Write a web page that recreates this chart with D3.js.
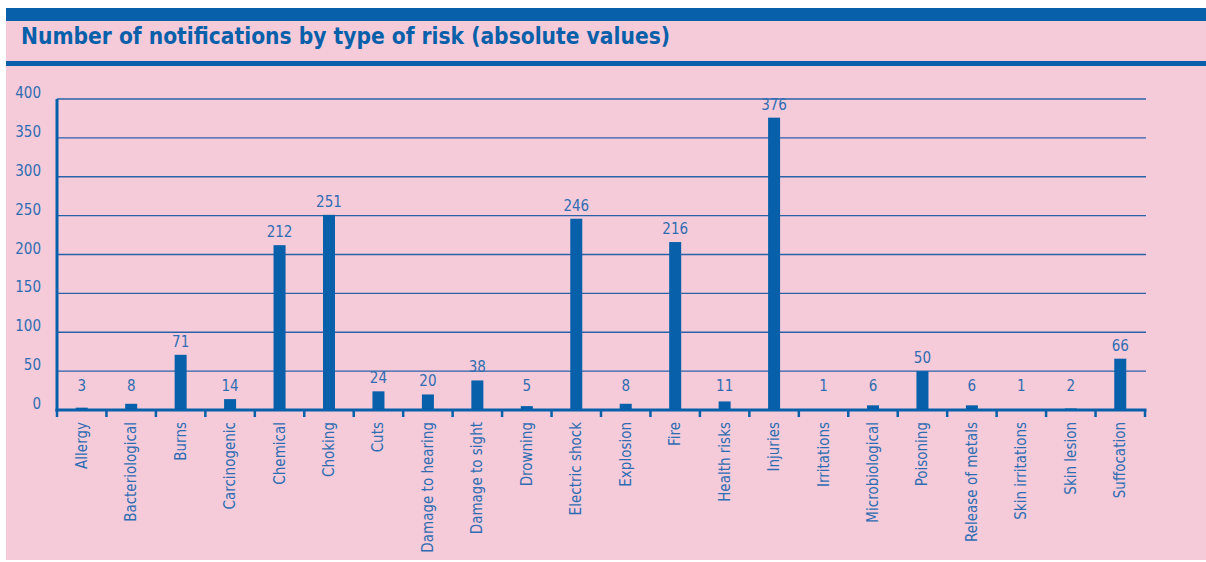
<!DOCTYPE html>
<html>
<head>
<meta charset="utf-8">
<script src="https://cdn.jsdelivr.net/npm/d3@7"></script>
<style>
  body { margin: 0; background: #fff; }
  svg text { font-family: 'DejaVu Sans Condensed', 'DejaVu Sans', sans-serif; }
</style>
</head>
<body>
<div id="chart"></div>
<script>
var categories = ['Allergy', 'Bacteriological', 'Burns', 'Carcinogenic', 'Chemical', 'Choking', 'Cuts',
	'Damage to hearing', 'Damage to sight', 'Drowning', 'Electric shock', 'Explosion', 'Fire', 'Health risks',
	'Injuries', 'Irritations', 'Microbiological', 'Poisoning', 'Release of metals', 'Skin irritations',
	'Skin lesion', 'Suffocation'];
var values = [3, 8, 71, 14, 212, 251, 24, 20, 38, 5, 246, 8, 216, 11, 376, 1, 6, 50, 6, 1, 2, 66];
var yTicks = [0, 50, 100, 150, 200, 250, 300, 350, 400];
var title = 'Number of notifications by type of risk (absolute values)';

var W = 1206, H = 562;
var blue = '#0760a9';
var textBlue = '#2f6db2';
var pink = '#f5cbda';

var margin = { top: 99, left: 57, right: 61, bottom: 152 };
var width = W - margin.left - margin.right;
var height = H - margin.top - margin.bottom;

var svg = d3.select('#chart').append('svg')
	.attr('width', W)
	.attr('height', H);

// panel & header bands
svg.append('rect').attr('x', 6).attr('y', 8).attr('width', W - 6).attr('height', 552).attr('fill', pink);
svg.append('rect').attr('x', 6).attr('y', 8).attr('width', W - 6).attr('height', 13).attr('fill', blue);
svg.append('rect').attr('x', 6).attr('y', 61).attr('width', W - 6).attr('height', 5).attr('fill', blue);

svg.append('text')
	.attr('x', 21)
	.attr('y', 44)
	.attr('fill', blue)
	.style('font-size', '23px')
	.style('font-weight', 'bold')
	.attr('textLength', 649)
	.attr('lengthAdjust', 'spacingAndGlyphs')
	.text(title);

var g = svg.append('g')
	.attr('transform', 'translate(' + margin.left + ',' + margin.top + ')');

var x = d3.scaleBand()
	.domain(categories)
	.range([0, 1088]);

var y = d3.scaleLinear()
	.domain([0, 400])
	.range([height, 0]);

// gridlines
g.append('g')
	.attr('class', 'grid')
	.selectAll('line')
	.data(yTicks.filter(function(d) { return d > 0; }))
	.enter().append('line')
	.attr('x1', 0)
	.attr('x2', width + 1)
	.attr('y1', function(d) { return y(d); })
	.attr('y2', function(d) { return y(d); })
	.attr('stroke', '#2a62a8')
	.attr('stroke-width', 1.3);

// y axis labels
var yAxis = d3.axisLeft(y)
	.tickValues(yTicks)
	.tickSize(0)
	.tickPadding(16);

var yg = g.append('g').call(yAxis);
yg.select('.domain').remove();
yg.selectAll('text')
	.attr('dy', '-0.1em')
	.attr('fill', textBlue)
	.style('font-family', "'DejaVu Sans Condensed', sans-serif")
	.style('font-size', '15px');

// bars
var barW = 12;
g.selectAll('.bar')
	.data(values)
	.enter().append('rect')
	.attr('class', 'bar')
	.attr('x', function(d, i) { return x(categories[i]) + x.bandwidth() / 2 - barW / 2; })
	.attr('y', function(d) { return y(d); })
	.attr('width', barW)
	.attr('height', function(d) { return height - y(d); })
	.attr('fill', blue);

// value labels
g.selectAll('.val')
	.data(values)
	.enter().append('text')
	.attr('class', 'val')
	.attr('x', function(d, i) { return x(categories[i]) + x.bandwidth() / 2; })
	.attr('y', function(d) { return Math.min(y(d), y(14)) - 8; })
	.attr('text-anchor', 'middle')
	.attr('fill', textBlue)
	.style('font-size', '15px')
	.text(function(d) { return d; });

// y axis line
g.append('line')
	.attr('x1', 0).attr('x2', 0)
	.attr('y1', 0).attr('y2', height + 1.5)
	.attr('stroke', blue)
	.attr('stroke-width', 3);

// x axis: line, ticks at band edges, rotated labels
var xg = g.append('g')
	.attr('transform', 'translate(0,' + height + ')');

xg.append('line')
	.attr('x1', -1.5).attr('x2', 1089.5)
	.attr('y1', 0).attr('y2', 0)
	.attr('stroke', blue)
	.attr('stroke-width', 3);

var edges = categories.map(function(c) { return x(c); }).concat([x.range()[1]]);
xg.selectAll('.tick-mark')
	.data(edges)
	.enter().append('line')
	.attr('class', 'tick-mark')
	.attr('x1', function(d) { return d; })
	.attr('x2', function(d) { return d; })
	.attr('y1', 0)
	.attr('y2', 7)
	.attr('stroke', blue)
	.attr('stroke-width', 2.5);

xg.selectAll('.xlabel')
	.data(categories)
	.enter().append('text')
	.attr('class', 'xlabel')
	.attr('transform', function(d) {
		return 'translate(' + (x(d) + x.bandwidth() / 2 + 5) + ',12) rotate(-90)';
	})
	.attr('text-anchor', 'end')
	.attr('fill', textBlue)
	.style('font-size', '15px')
	.text(function(d) { return d; });
</script>
</body>
</html>
